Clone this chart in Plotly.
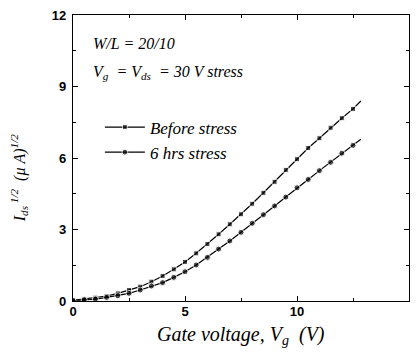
import plotly.graph_objects as go

vg = [0, 0.5, 1, 1.5, 2, 2.5, 3, 3.5, 4, 4.5, 5, 5.5, 6, 6.5, 7, 7.5, 8, 8.5,
      9, 9.5, 10, 10.5, 11, 11.5, 12, 12.5, 12.85]
before = [0.03, 0.08, 0.14, 0.21, 0.32, 0.46, 0.60, 0.81, 1.05, 1.33, 1.64, 2.00,
          2.39, 2.80, 3.22, 3.64, 4.08, 4.54, 5.00, 5.50, 5.95, 6.42, 6.83, 7.27,
          7.67, 8.06, 8.39]
after6h = [0.02, 0.05, 0.08, 0.15, 0.22, 0.32, 0.46, 0.63, 0.77, 0.99, 1.23, 1.51,
           1.83, 2.18, 2.52, 2.88, 3.26, 3.62, 3.99, 4.36, 4.75, 5.10, 5.47, 5.82,
           6.20, 6.53, 6.79]
names = ["Before stress", "6 hrs stress"]
x_ticks = [0, 5, 10, 15]
y_ticks = [0, 3, 6, 9, 12]

serif = "Liberation Serif"
sans = "Liberation Sans"

def msizes(n, s):
    return [s] * (n - 1) + [0]

fig = go.Figure()
fig.add_trace(go.Scatter(x=vg, y=before, name=names[0], mode="lines+markers",
                         line=dict(color="black", width=1.2),
                         marker=dict(symbol="square", size=msizes(len(vg), 5), color="black")))
fig.add_trace(go.Scatter(x=vg, y=after6h, name=names[1], mode="lines+markers",
                         line=dict(color="black", width=1.2),
                         marker=dict(symbol="circle", size=msizes(len(vg), 6), color="black")))

axis_common = dict(showline=True, linecolor="black", linewidth=1.3, mirror="ticks",
                   ticks="inside", ticklen=5, tickwidth=1.2, tickcolor="black",
                   showgrid=False, zeroline=False,
                   tickfont=dict(family=sans, size=13, color="black", weight="bold"),
                   minor=dict(ticks="inside", ticklen=3, tickcolor="black", tickwidth=1))

fig.update_xaxes(range=[0, 15], tickvals=x_ticks, ticktext=[str(v) for v in x_ticks],
                 minor_dtick=2.5, ticklabelstandoff=-2, **axis_common)
fig.update_yaxes(range=[0, 12], tickvals=y_ticks, ticktext=[str(v) for v in y_ticks],
                 minor_dtick=1.5, ticklabelstandoff=3, **axis_common)

fig.add_annotation(xref="paper", yref="paper", x=0.055, y=0.9, xanchor="left", yanchor="middle",
                   text="W/L = 20/10", showarrow=False,
                   font=dict(family=serif, size=16, color="black", style="italic"))
fig.add_annotation(xref="paper", yref="paper", x=0.055, y=0.8, xanchor="left", yanchor="middle",
                   text="V<sub>g</sub>  = V<sub>ds</sub>  = 30 V stress", showarrow=False,
                   font=dict(family=serif, size=16, color="black", style="italic"))

fig.add_annotation(xref="paper", yref="paper", x=-0.16, y=0.43, xanchor="center", yanchor="middle",
                   textangle=-90,
                   text="I<sub>ds</sub><sup> 1/2</sup>  (\u03bc A)<sup>1/2</sup>", showarrow=False,
                   font=dict(family=serif, size=16, color="black", style="italic"))
fig.add_annotation(xref="paper", yref="paper", x=0.5, y=-0.119, xanchor="center", yanchor="middle",
                   text="Gate voltage, V<sub>g</sub>  (V)", showarrow=False,
                   font=dict(family=serif, size=20, color="black", style="italic"))

fig.update_layout(
    width=416, height=358,
    margin=dict(l=73, r=7, t=15, b=57),
    paper_bgcolor="white", plot_bgcolor="white",
    showlegend=True,
    legend=dict(x=0.08, y=0.563, xanchor="left", yanchor="middle",
                bgcolor="rgba(0,0,0,0)", borderwidth=0,
                font=dict(family=serif, size=17, color="black", style="italic"),
                itemwidth=40, tracegroupgap=0),
)

fig.write_html("out.html")
